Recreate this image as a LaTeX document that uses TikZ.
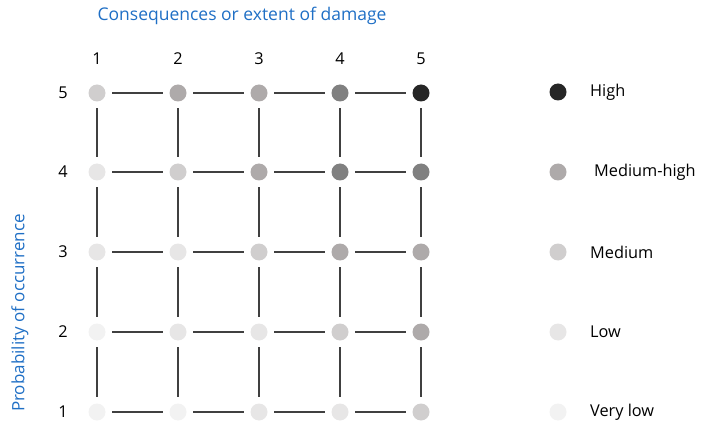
\documentclass[tikz,border=0pt]{standalone}
\usepackage{fontspec}
\setmainfont{Open Sans}
\definecolor{ttl}{HTML}{1F6FC5}
\definecolor{lvA}{HTML}{262626}
\definecolor{lvB}{HTML}{808080}
\definecolor{lvC}{HTML}{AEAAAA}
\definecolor{lvD}{HTML}{D0CECE}
\definecolor{lvE}{HTML}{E7E6E6}
\definecolor{lvF}{HTML}{F2F2F2}
\tikzset{
  dot/.style={circle,inner sep=0pt,minimum size=17pt,draw=none},
  lbl/.style={font=\fontsize{16.3}{18}\selectfont,text=black,inner sep=0pt},
  gridline/.style={draw=black!75,line width=1.2pt}
}
\begin{document}
\begin{tikzpicture}[x=1pt,y=1pt]
\useasboundingbox (0,0) rectangle (706,426);
% title
\node[font=\fontsize{17.5}{19}\selectfont,text=ttl] (title) at (242,410) {Consequences or extent of damage};
\node[font=\fontsize{17}{19}\selectfont,text=ttl,rotate=90] (ylab) at (20,113) {Probability of occurrence};
% column labels
\foreach \c/\x in {1/97,2/178,3/259,4/340,5/421}{
  \node[lbl] (col\c) at (\x,367) {\c};
}
% row labels
\foreach \r/\y in {5/333,4/254,3/174,2/94,1/14}{
  \node[lbl] (row\r) at (63,\y) {\r};
}
% dots
\def\X{{0,97,178,259,340,421}}
\def\Y{{0,14,94,174,254,333}}
\foreach \r/\cols in {5/{lvD,lvC,lvC,lvB,lvA},4/{lvE,lvD,lvC,lvB,lvB},3/{lvE,lvE,lvD,lvC,lvC},2/{lvF,lvE,lvE,lvD,lvC},1/{lvF,lvF,lvE,lvE,lvD}}{
  \foreach \col [count=\c] in \cols {
    \pgfmathsetmacro{\xx}{\X[\c]}
    \pgfmathsetmacro{\yy}{\Y[\r]}
    \node[dot,fill=\col] (d\r\c) at (\xx,\yy) {};
  }
}
% grid lines
\foreach \r in {1,...,5}{
  \foreach \c [evaluate=\c as \n using int(\c+1)] in {1,...,4}{
    \draw[gridline,shorten <=6.5pt,shorten >=6.5pt] (d\r\c) -- (d\r\n);
  }
}
\foreach \c in {1,...,5}{
  \foreach \r [evaluate=\r as \n using int(\r+1)] in {1,...,4}{
    \draw[gridline,shorten <=6.5pt,shorten >=6.5pt] (d\r\c) -- (d\n\c);
  }
}
% legend
\foreach \nm/\col/\y/\txt/\dx in {h/lvA/334/High/590,mh/lvC/254/Medium-high/594,m/lvD/174/Medium/590,l/lvE/94/Low/590,vl/lvF/14/Very low/590}{
  \node[dot,fill=\col] (leg\nm) at (558,\y) {};
  \node[lbl,anchor=west] (legt\nm) at (\dx,\y) {\txt};
}
\end{tikzpicture}
\end{document}
